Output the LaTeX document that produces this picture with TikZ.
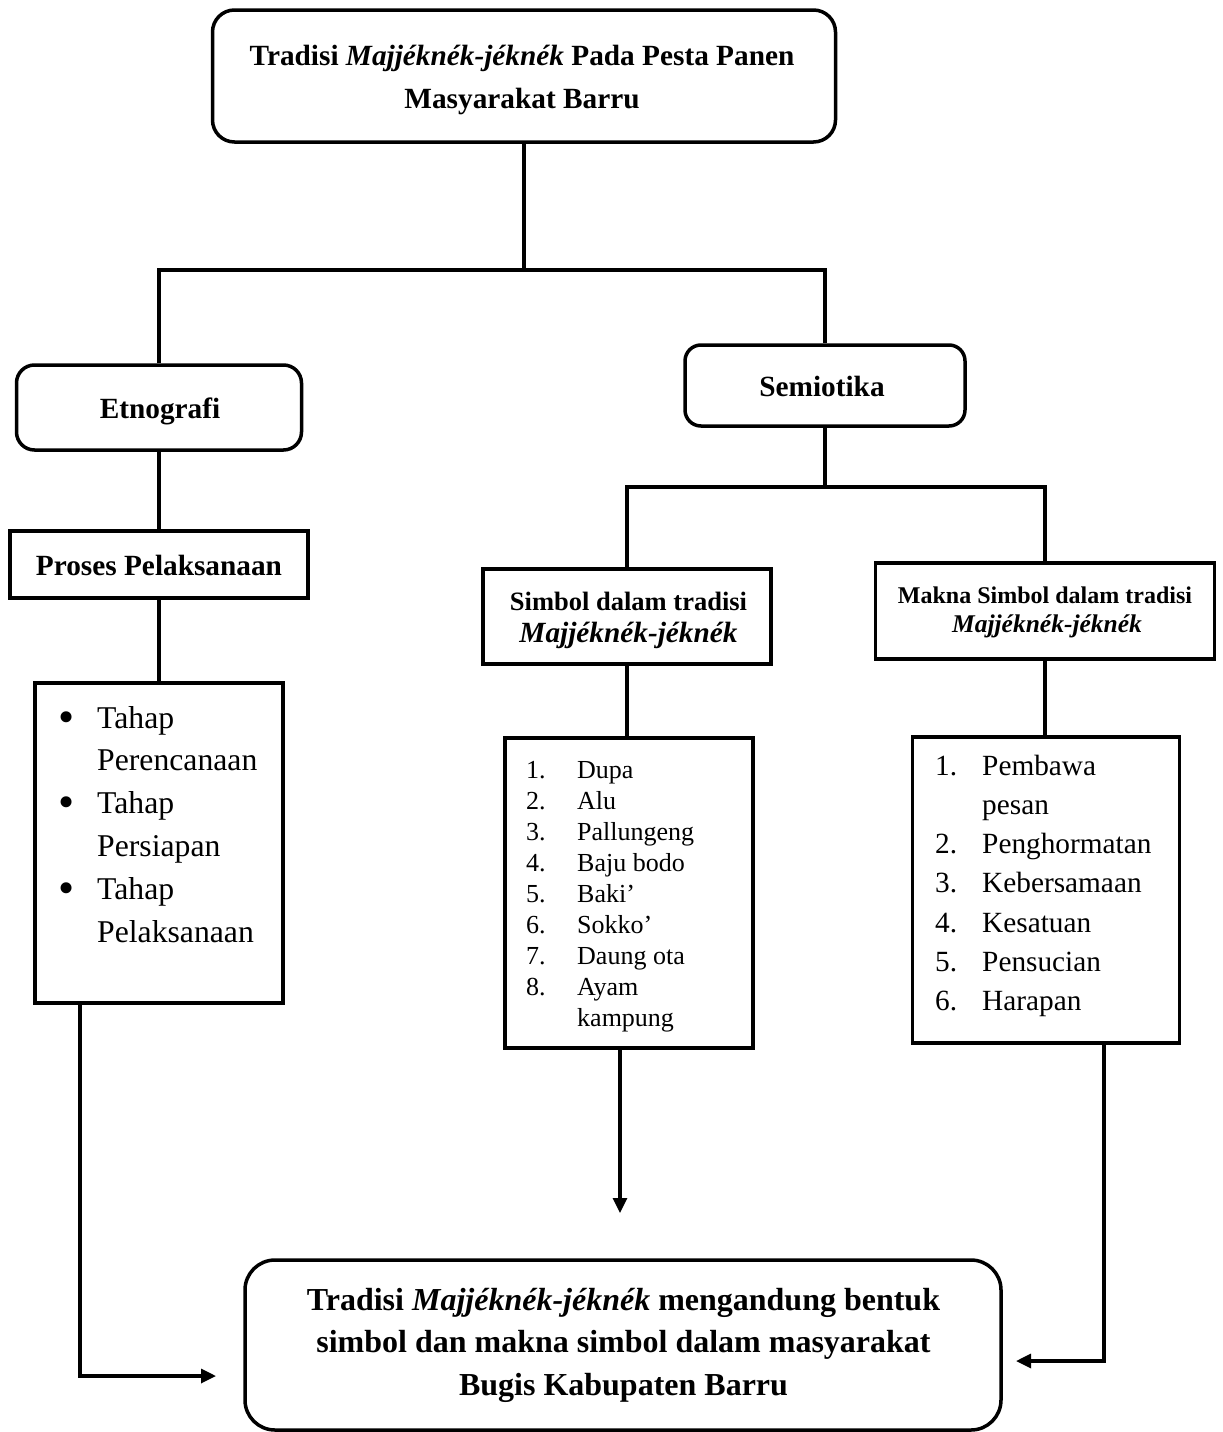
\documentclass[tikz,border=0pt]{standalone}
\usepackage{fontspec}
\setmainfont{Liberation Serif}
\usetikzlibrary{arrows.meta}
\newcommand\fhead{\fontsize{29.3}{35}\selectfont\bfseries}
\newcommand\fbot{\fontsize{32}{38}\selectfont\bfseries}
\newcommand\fsimA{\fontsize{26.5}{30}\selectfont\bfseries}
\newcommand\fsimB{\fontsize{29.3}{30}\selectfont\bfseries\itshape}
\newcommand\fmakA{\fontsize{24}{28}\selectfont\bfseries}
\newcommand\fmakB{\fontsize{25.5}{28}\selectfont\bfseries\itshape}
\newcommand\ftahap{\fontsize{31.7}{40}\selectfont}
\newcommand\fbul{\fontsize{46}{46}\selectfont}
\newcommand\fsimL{\fontsize{26}{30}\selectfont}
\newcommand\fmakL{\fontsize{29.3}{34}\selectfont}
\begin{document}
\begin{tikzpicture}[x=1pt,y=-1pt]
\tikzset{
  sbox/.style={draw, line width=3.5pt, inner sep=0pt, fill=white},
  rbox/.style={sbox, rounded corners=#1},
  conn/.style={line width=3.2pt},
  arr/.style={conn, -{Triangle[length=15pt,width=14pt]}},
  lbl/.style={inner sep=0pt, anchor=base},
  lft/.style={inner sep=0pt, anchor=base west},
}
\useasboundingbox[fill=white] (0,0) rectangle (1223,1432);

% boxes
\node[rbox=22pt, minimum width=623pt, minimum height=132pt] (title) at (524,76) {};
\node[rbox=18pt, minimum width=285pt, minimum height=85pt] (etno) at (159,407.5) {};
\node[rbox=16pt, minimum width=280pt, minimum height=81pt] (semio) at (825,385.5) {};
\node[sbox, minimum width=298pt, minimum height=67pt] (proses) at (159,564.5) {};
\node[sbox, minimum width=248pt, minimum height=320pt] (tahap) at (159,843) {};
\node[sbox, minimum width=288pt, minimum height=95pt] (simbol) at (627,616.5) {};
\node[sbox, minimum width=339pt, minimum height=96pt] (makna) at (1045,611) {};
\node[sbox, minimum width=248pt, minimum height=310pt] (simlist) at (629,893) {};
\node[sbox, minimum width=267pt, minimum height=306pt] (maklist) at (1046,890) {};
\node[rbox=30pt, minimum width=756pt, minimum height=170pt] (bottom) at (623,1345) {};

% texts
\node[lbl, font=\fhead] (tt1) at (522,65) {Tradisi \textit{Majjéknék-jéknék} Pada Pesta Panen};
\node[lbl, font=\fhead] (tt2) at (522,108) {Masyarakat Barru};
\node[lbl, font=\fhead] (et) at (160,418) {Etnografi};
\node[lbl, font=\fhead] (se) at (822,396) {Semiotika};
\node[lbl, font=\fhead] (pr) at (159,575) {Proses Pelaksanaan};
\node[lbl, font=\fsimA] (si1) at (628.5,610) {Simbol dalam tradisi};
\node[lbl, font=\fsimB] (si2) at (628.5,642) {Majjéknék-jéknék};
\node[lbl, font=\fmakA] (ma1) at (1045,603) {Makna Simbol dalam tradisi};
\node[lbl, font=\fmakB] (ma2) at (1047,632) {Majjéknék-jéknék};

% Tahap list
\foreach \t [count=\n from 0] in {Tahap, Perencanaan, Tahap, Persiapan, Tahap, Pelaksanaan}{
  \node[lft, font=\ftahap] (tl\n) at (97,{728+42.8*\n}) {\t};
}
\foreach \n in {0,2,4}{
  \node[lbl, font=\fbul] (tb\n) at (67,{732+42.8*\n}) {•};
}

% Simbol list
\foreach \t [count=\n from 1] in {Dupa, Alu, Pallungeng, Baju bodo, Baki’, Sokko’, Daung ota, Ayam}{
  \node[lft, font=\fsimL] (sn\n) at (526,{778+31.1*(\n-1)}) {\n.};
  \node[lft, font=\fsimL] (st\n) at (577,{778+31.1*(\n-1)}) {\t};
}
\node[lft, font=\fsimL] (st9) at (577,{778+31.1*8}) {kampung};

% Makna list
\node[lft, font=\fmakL] (mn1) at (935,775) {1.};
\node[lft, font=\fmakL] (mt1) at (982,775) {Pembawa};
\node[lft, font=\fmakL] (mt1b) at (982,814) {pesan};
\foreach \t [count=\n from 2] in {Penghormatan, Kebersamaan, Kesatuan, Pensucian, Harapan}{
  \node[lft, font=\fmakL] (mn\n) at (935,{853.6+39.3*(\n-2)}) {\n.};
  \node[lft, font=\fmakL] (mt\n) at (982,{853.6+39.3*(\n-2)}) {\t};
}

% connectors
\coordinate (j1) at (524,270);
\coordinate (j2) at (825,487);
\draw[conn] (title.south) -- (j1);
\draw[conn] (etno.north) |- (j1) -| (semio.north);
\draw[conn] (etno.south) -- (proses.north);
\draw[conn] (proses.south) -- (tahap.north);
\draw[conn] (semio.south) -- (j2);
\draw[conn] (simbol.north) |- (j2) -| (makna.north);
\draw[conn] (simbol.south) -- (simbol.south |- simlist.north);
\draw[conn] (makna.south) -- (makna.south |- maklist.north);

\coordinate (ax) at (620,0);
\coordinate (aend) at (620,1213);
\draw[arr] (simlist.south -| ax) -- (aend);
\coordinate (lx) at (80,0);
\coordinate (lend) at (216,1376);
\draw[arr] (tahap.south -| lx) |- (lend);
\coordinate (rx) at (1104,0);
\coordinate (rend) at (1016,1361);
\draw[arr] (maklist.south -| rx) |- (rend);

% bottom text
\node[lbl, font=\fbot] (b1) at (623.5,1310) {Tradisi \textit{Majjéknék-jéknék} mengandung bentuk};
\node[lbl, font=\fbot] (b2) at (623.5,1352) {simbol dan makna simbol dalam masyarakat};
\node[lbl, font=\fbot] (b3) at (623.5,1395) {Bugis Kabupaten Barru};
\end{tikzpicture}
\end{document}
